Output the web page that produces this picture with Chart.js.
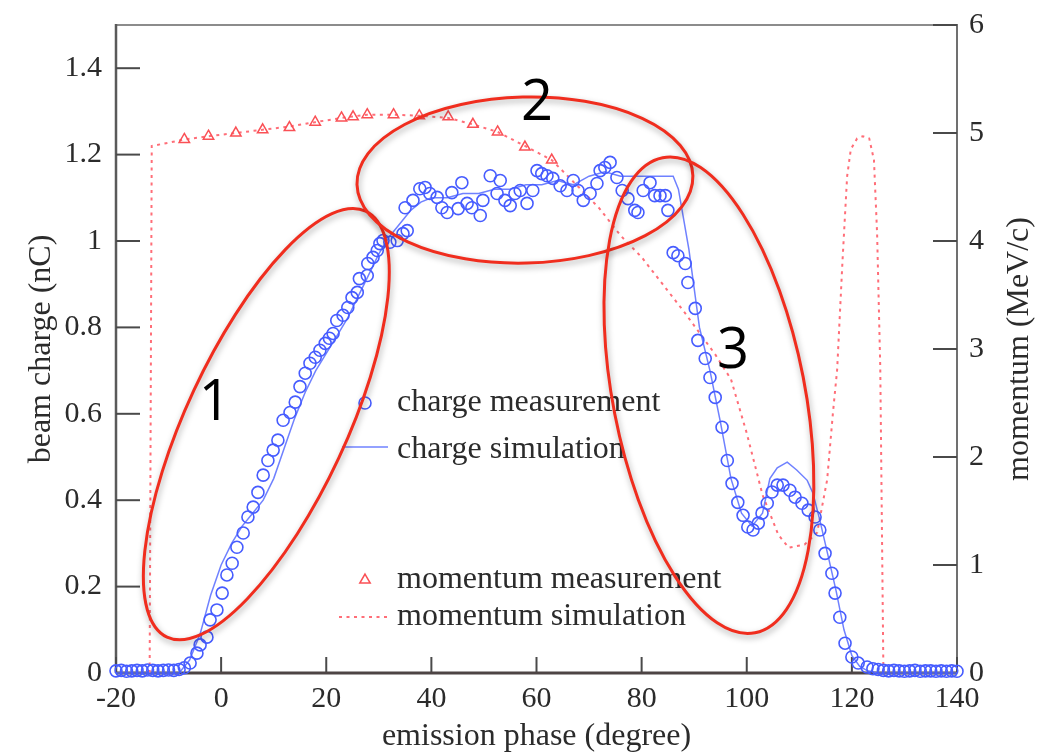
<!DOCTYPE html>
<html>
<head>
<meta charset="utf-8">
<script src="https://cdn.jsdelivr.net/npm/chart.js@4.4.1/dist/chart.umd.min.js"></script>
<style>
  html, body { margin: 0; padding: 0; background: #fff; }
  #wrap { width: 1048px; height: 755px; }
</style>
</head>
<body>
<div id="wrap"><canvas id="chart1" width="1048" height="755"></canvas></div>
<script>
// measured beam charge (nC) against emission phase (degree)
var chargePhase = [-20, -19, -18, -17, -16, -15, -14, -13, -12, -11, -10, -9, -8, -7,
  -5.9, -4.6, -4.0, -2.7, -2.1, -0.8, 0.2, 1.1, 2.1, 3.0, 4.2, 5.1, 6.1, 7.0, 8.0, 8.9, 9.9,
  10.8, 11.8, 13.1, 14.1, 15.0, 16.0, 16.9, 17.9, 18.8, 19.8, 20.6, 21.3, 22.0, 23.2, 24.1,
  24.9, 25.9, 26.3, 27.8, 27.9, 28.9, 29.7, 30.2, 30.8, 32.1, 33.5, 34.6, 35.0, 35.4, 36.5,
  37.8, 38.8, 39.7, 41.1, 42.0, 43.0, 43.9, 45.1, 45.8, 46.8, 47.7, 49.3, 49.8, 51.2, 52.5,
  53.1, 54.0, 55.0, 55.9, 56.9, 58.2, 59.3, 60.1, 61.0, 62.0, 63.1, 64.5, 65.8, 67.0, 67.9,
  68.9, 70.2, 71.5, 72.1, 73.0, 74.0, 75.3, 76.3, 77.4, 78.7, 79.3, 80.3, 81.6, 82.5, 83.5,
  84.5, 85.0, 86.0, 86.9, 88.3, 88.8, 90.2, 90.7, 92.1, 93.0, 94.0, 95.3, 96.3, 97.2, 98.3,
  99.3, 100.2, 101.2, 102.2, 102.9, 103.9, 104.8, 105.8, 106.9, 108.2, 109.2, 110.5, 111.7,
  113.0, 113.9, 114.9, 116.2, 116.8, 117.7, 118.7, 120.0, 121.2, 122.9, 124, 125, 126, 127,
  128, 129, 130, 131, 132, 133, 134, 135, 136, 137, 138, 139, 140];
var chargeMeas = [0.005, 0.006, 0.004, 0.005, 0.006, 0.005, 0.007, 0.006, 0.005, 0.006, 0.007, 0.006, 0.008, 0.012,
  0.023, 0.046, 0.065, 0.083, 0.123, 0.146, 0.185, 0.227, 0.254, 0.291, 0.324, 0.361, 0.384, 0.418, 0.458, 0.492, 0.516,
  0.539, 0.585, 0.603, 0.627, 0.663, 0.694, 0.717, 0.731, 0.747, 0.763, 0.775, 0.786, 0.816, 0.828, 0.846,
  0.869, 0.881, 0.913, 0.920, 0.948, 0.962, 0.978, 0.994, 1.001, 0.997, 1.001, 1.017, 1.077, 1.024, 1.094,
  1.121, 1.124, 1.110, 1.101, 1.077, 1.066, 1.112, 1.075, 1.135, 1.087, 1.077, 1.059, 1.094, 1.151, 1.110,
  1.140, 1.094, 1.082, 1.110, 1.117, 1.087, 1.117, 1.163, 1.156, 1.151, 1.145, 1.128, 1.117, 1.140, 1.117,
  1.094, 1.110, 1.133, 1.163, 1.170, 1.182, 1.147, 1.117, 1.098, 1.071, 1.066, 1.117, 1.135, 1.105, 1.105,
  1.105, 1.071, 0.973, 0.966, 0.948, 0.904, 0.844, 0.770, 0.728, 0.684, 0.638, 0.569, 0.492, 0.439, 0.395,
  0.365, 0.338, 0.331, 0.347, 0.370, 0.393, 0.419, 0.435, 0.435, 0.423, 0.407, 0.393, 0.377,
  0.361, 0.331, 0.277, 0.231, 0.185, 0.129, 0.069, 0.037, 0.023, 0.014, 0.010, 0.008, 0.006, 0.005,
  0.006, 0.005, 0.004, 0.005, 0.006, 0.004, 0.005, 0.005, 0.004, 0.005, 0.004, 0.005, 0.004];

// simulated beam charge (nC)
var simPhase = [-20, -8, -6, -4, -2, 0, 2, 4, 6, 8, 10, 12, 14, 16, 18, 20, 22, 24, 26, 28, 30,
  32, 34, 36, 38, 40, 43, 46, 49, 52, 55, 58, 61, 64, 67, 70, 73, 76, 80, 84, 86, 87, 89, 91,
  93, 95, 97, 99, 101, 103, 104.4, 105.8, 107.7, 109.5, 111.5, 112.6, 113.9, 115.5, 117, 118.5,
  120, 121.5, 123, 125, 140];
var chargeSim = [0, 0, 0.03, 0.09, 0.18, 0.25, 0.30, 0.34, 0.37, 0.40, 0.45, 0.52, 0.59, 0.65, 0.70, 0.74, 0.78, 0.82, 0.87, 0.92, 0.97,
  1.01, 1.04, 1.07, 1.09, 1.10, 1.10, 1.11, 1.11, 1.12, 1.12, 1.13, 1.13, 1.14, 1.13, 1.15, 1.16, 1.15, 1.15, 1.15, 1.15, 1.12, 0.98, 0.80,
  0.70, 0.58, 0.45, 0.37, 0.34, 0.37, 0.45, 0.475, 0.488, 0.47, 0.446, 0.416, 0.354, 0.27, 0.19, 0.10,
  0.04, 0.015, 0.005, 0, 0];

// measured momentum (MeV/c)
var momPhase = [-7, -2.4, 2.8, 7.9, 13, 17.9, 22.9, 25.1, 27.8, 32.8, 37.7, 43.2, 47.9, 52.6, 57.8, 62.9];
var momMeas = [4.94, 4.97, 5.00, 5.03, 5.05, 5.10, 5.14, 5.15, 5.17, 5.17, 5.16, 5.15, 5.08, 5.01, 4.87, 4.75];

// simulated momentum (MeV/c)
var momSimPhase = [-13.6, -13.2, -10, -7, -2.4, 2.8, 7.9, 13, 17.9, 22.9, 27.8, 32.8, 37.7, 43.2, 47.9,
  52.6, 57.8, 62.9, 68, 72, 76, 80, 84, 88, 91, 94, 97, 100, 103, 106, 108, 111, 113.4, 115.3,
  116.4, 117.2, 118.2, 119.1, 119.8, 121, 122.1, 123.3, 124.2, 124.8, 125.4, 126];
var momSim = [0, 4.88, 4.91, 4.94, 4.97, 5.00, 5.03, 5.06, 5.10, 5.14, 5.17, 5.17, 5.16, 5.14, 5.08,
  5.01, 4.88, 4.75, 4.50, 4.30, 4.05, 3.85, 3.60, 3.35, 3.15, 2.95, 2.72, 2.22, 1.65, 1.28, 1.16, 1.19, 1.30, 1.79,
  2.41, 2.81, 3.80, 4.60, 4.85, 4.95, 4.97, 4.95, 4.75, 4.07, 2.83, 0];

var phaseTicks = [-20, 0, 20, 40, 60, 80, 100, 120, 140];
var chargeTicks = [0, 0.2, 0.4, 0.6, 0.8, 1, 1.2, 1.4];
var momTicks = [0, 1, 2, 3, 4, 5, 6];

var BLUE = 'rgb(70, 92, 255)';
var BLUE_LINE = 'rgba(95, 115, 255, 0.9)';
var RED = 'rgb(250, 80, 85)';
var PINK = 'rgb(255, 110, 120)';
var TEXT = '#2b2b2b';
var SERIF = '"Liberation Serif", "Times New Roman", serif';

function pairs(xs, ys) {
  return xs.map(function (x, i) { return { x: x, y: ys[i] }; });
}

function line(c, x1, y1, x2, y2) {
  c.beginPath();
  c.moveTo(x1, y1);
  c.lineTo(x2, y2);
  c.stroke();
}

function circleMark(c, x, y) {
  c.strokeStyle = BLUE;
  c.lineWidth = 1.6;
  c.beginPath();
  c.arc(x, y, 6, 0, Math.PI * 2);
  c.stroke();
}

function triangleMark(c, x, y) {
  var r = 6;
  c.strokeStyle = RED;
  c.lineWidth = 1.5;
  c.beginPath();
  c.moveTo(x, y - r);
  c.lineTo(x + r * 0.866, y + r * 0.5);
  c.lineTo(x - r * 0.866, y + r * 0.5);
  c.closePath();
  c.stroke();
}

// highlighted regions: centre in data units, radii in pixels, tilt in degrees
var regions = [
  { label: '1', cx: 8.6, cy: 0.576, rx: 235, ry: 80, tilt: -65, tx: -1.2, ty: 0.585 },
  { label: '2', cx: 57.8, cy: 1.141, rx: 168, ry: 83, tilt: -1.5, tx: 60.1, ty: 1.279 },
  { label: '3', cx: 92.8, cy: 0.643, rx: 96, ry: 242, tilt: -11, tx: 97.4, ty: 0.705 }
];

var overlay = {
  id: 'overlay',
  beforeDatasetsDraw: function (chart) {
    var c = chart.ctx, a = chart.chartArea;
    var sx = chart.scales.x, sy = chart.scales.y, sy2 = chart.scales.y2;
    c.save();
    // frame
    c.strokeStyle = '#8c8c8c';
    c.lineWidth = 2;
    line(c, a.left, a.top, a.right, a.top);
    c.strokeStyle = '#5a5a5a';
    c.lineWidth = 2.5;
    line(c, a.left, a.top - 1, a.left, a.bottom);
    c.strokeStyle = '#707070';
    c.lineWidth = 2;
    line(c, a.right, a.top - 1, a.right, a.bottom);

    // inward tick marks
    c.strokeStyle = '#4a4a4a';
    c.lineWidth = 2;
    chargeTicks.forEach(function (v) {
      var p = sy.getPixelForValue(v);
      line(c, a.left, p, a.left + 24, p);
    });
    momTicks.forEach(function (v) {
      var p = sy2.getPixelForValue(v);
      line(c, a.right - 24, p, a.right, p);
    });
    phaseTicks.forEach(function (v) {
      var p = sx.getPixelForValue(v);
      line(c, p, a.bottom, p, a.bottom - 16);
    });

    c.strokeStyle = '#4d4444';
    c.lineWidth = 3;
    line(c, a.left, a.bottom, a.right, a.bottom);
    c.restore();
  },
  afterDatasetsDraw: function (chart) {
    var c = chart.ctx;
    var sx = chart.scales.x, sy = chart.scales.y;
    c.save();

    // legend
    c.font = '32px ' + SERIF;
    c.fillStyle = TEXT;
    c.textBaseline = 'middle';
    c.textAlign = 'left';
    circleMark(c, 365, 403);
    c.fillText('charge measurement', 397, 403);
    c.strokeStyle = BLUE_LINE;
    c.lineWidth = 1.5;
    line(c, 342, 447, 388, 447);
    c.fillText('charge simulation', 397, 450);
    triangleMark(c, 365, 580);
    c.fillText('momentum measurement', 397, 580);
    c.strokeStyle = PINK;
    c.lineWidth = 2;
    c.setLineDash([3, 4.5]);
    line(c, 339, 617, 388, 617);
    c.setLineDash([]);
    c.fillText('momentum simulation', 397, 617);

    // region outlines and numbers
    regions.forEach(function (r) {
      var x = sx.getPixelForValue(r.cx), y = sy.getPixelForValue(r.cy);
      c.save();
      c.shadowColor = 'rgba(0, 0, 0, 0.35)';
      c.shadowBlur = 6;
      c.shadowOffsetX = 1;
      c.shadowOffsetY = 3;
      c.strokeStyle = 'rgb(240, 45, 30)';
      c.lineWidth = 3;
      c.beginPath();
      c.ellipse(x, y, r.rx, r.ry, r.tilt * Math.PI / 180, 0, Math.PI * 2);
      c.stroke();
      c.restore();
    });
    c.font = '56px "Open Sans", "Liberation Sans", sans-serif';
    c.fillStyle = '#000';
    c.textAlign = 'center';
    c.textBaseline = 'alphabetic';
    regions.forEach(function (r) {
      c.fillText(r.label, sx.getPixelForValue(r.tx), sy.getPixelForValue(r.ty));
    });
    c.restore();
  },
  afterDraw: function (chart) {
    var c = chart.ctx, a = chart.chartArea;
    var midY = (a.top + a.bottom) / 2;
    c.save();
    c.font = '32px ' + SERIF;
    c.fillStyle = TEXT;
    c.textAlign = 'center';
    c.textBaseline = 'middle';
    c.fillText('emission phase (degree)', (a.left + a.right) / 2, 737);
    c.translate(42, midY);
    c.rotate(-Math.PI / 2);
    c.fillText('beam charge (nC)', 0, 0);
    c.restore();
    c.save();
    c.font = '32px ' + SERIF;
    c.fillStyle = TEXT;
    c.textAlign = 'center';
    c.textBaseline = 'middle';
    c.translate(1020, midY);
    c.rotate(-Math.PI / 2);
    c.fillText('momentum (MeV/c)', 0, 0);
    c.restore();
  }
};

function tickFont() {
  return { family: SERIF, size: 30 };
}

var ctx = document.getElementById('chart1').getContext('2d');
var chart = new Chart(ctx, {
  type: 'scatter',
  data: {
    datasets: [{
      label: 'charge measurement',
      data: pairs(chargePhase, chargeMeas),
      yAxisID: 'y',
      showLine: false,
      pointStyle: 'circle',
      pointRadius: 6,
      borderWidth: 1.6,
      borderColor: BLUE,
      backgroundColor: 'rgba(0,0,0,0)',
      clip: false
    }, {
      label: 'charge simulation',
      data: pairs(simPhase, chargeSim),
      yAxisID: 'y',
      showLine: true,
      pointRadius: 0,
      borderWidth: 1.5,
      borderColor: BLUE_LINE,
      backgroundColor: BLUE_LINE,
      clip: false
    }, {
      label: 'momentum measurement',
      data: pairs(momPhase, momMeas),
      yAxisID: 'y2',
      showLine: false,
      pointStyle: 'triangle',
      pointRadius: 6,
      borderWidth: 1.5,
      borderColor: RED,
      backgroundColor: 'rgba(0,0,0,0)'
    }, {
      label: 'momentum simulation',
      data: pairs(momSimPhase, momSim),
      yAxisID: 'y2',
      showLine: true,
      pointRadius: 0,
      borderWidth: 2,
      borderDash: [3, 4.5],
      borderColor: PINK,
      backgroundColor: PINK
    }]
  },
  options: {
    responsive: false,
    animation: false,
    events: [],
    layout: { padding: { top: 25, left: 0, right: 0, bottom: 0 } },
    plugins: {
      legend: { display: false },
      tooltip: { enabled: false }
    },
    scales: {
      x: {
        type: 'linear',
        min: -20,
        max: 140,
        afterFit: function (s) { s.height = 82; },
        afterBuildTicks: function (s) { s.ticks = phaseTicks.map(function (v) { return { value: v }; }); },
        grid: { display: false },
        border: { display: false },
        ticks: { font: tickFont(), color: TEXT, padding: 0, maxRotation: 0, autoSkip: false,
          callback: function (v) { return String(v); } }
      },
      y: {
        type: 'linear',
        position: 'left',
        min: 0,
        max: 1.5,
        afterFit: function (s) { s.width = 116; },
        afterBuildTicks: function (s) { s.ticks = chargeTicks.map(function (v) { return { value: v }; }); },
        grid: { display: false },
        border: { display: false },
        ticks: { font: tickFont(), color: TEXT, padding: 6, autoSkip: false,
          callback: function (v) { return String(v); } }
      },
      y2: {
        type: 'linear',
        position: 'right',
        min: 0,
        max: 6,
        afterFit: function (s) { s.width = 91; },
        afterBuildTicks: function (s) { s.ticks = momTicks.map(function (v) { return { value: v }; }); },
        grid: { display: false },
        border: { display: false },
        ticks: { font: tickFont(), color: TEXT, padding: 4, autoSkip: false,
          callback: function (v) { return String(v); } }
      }
    }
  },
  plugins: [overlay]
});
</script>
</body>
</html>
